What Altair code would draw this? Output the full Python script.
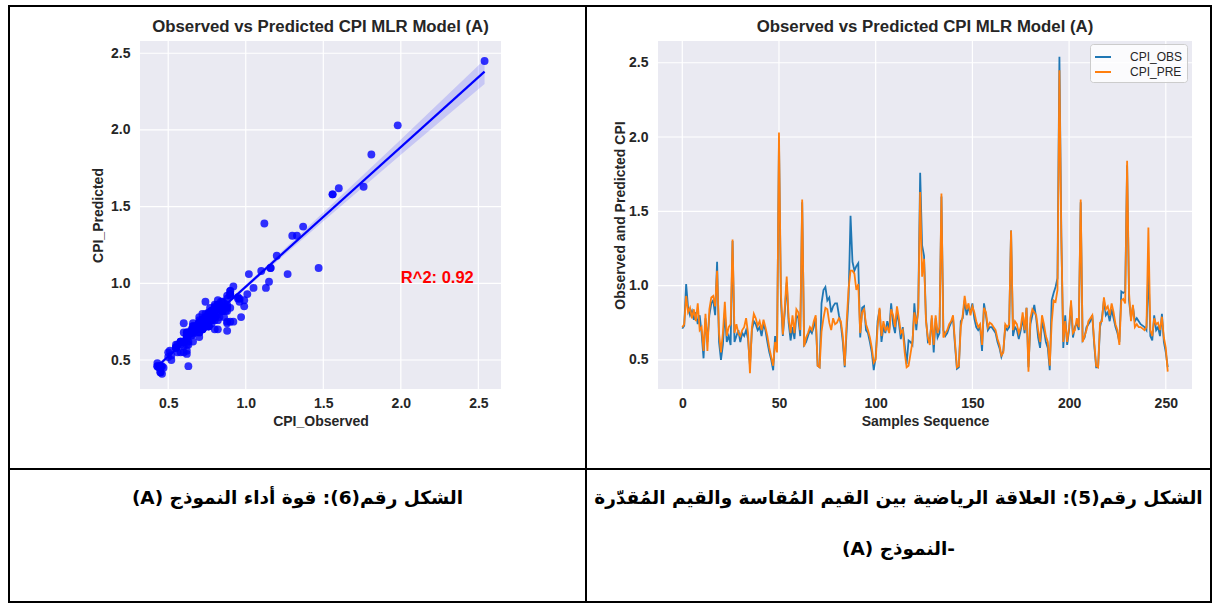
import altair as alt
import pandas as pd

# ---------------- data ----------------
cpi_obs = [
    0.71, 0.73, 1.01, 0.85, 0.80, 0.83, 0.77, 0.82, 0.74, 0.80,
    0.68, 0.51, 0.78, 0.62, 0.80, 0.88, 0.90, 0.80, 1.16, 0.62,
    0.50, 0.60, 0.82, 0.62, 0.66, 0.60, 1.30, 0.62, 0.66, 0.70,
    0.62, 0.68, 0.66, 0.70, 0.64, 0.46, 0.70, 0.76, 0.74, 0.70,
    0.72, 0.66, 0.74, 0.70, 0.62, 0.55, 0.50, 0.43, 0.66, 0.58,
    1.98, 0.90, 0.66, 0.82, 1.02, 0.75, 0.63, 0.72, 0.64, 0.80,
    0.78, 0.66, 1.56, 0.60, 0.62, 0.66, 0.70, 0.68, 0.72, 0.78,
    0.46, 0.45, 0.88, 0.97, 0.99, 0.90, 0.92, 0.82, 0.86, 0.88,
    0.88, 0.80, 0.74, 0.62, 0.45, 0.70, 0.92, 1.47, 1.16, 1.10,
    1.13, 1.15, 0.65, 0.85, 0.86, 0.70, 0.68, 0.62, 0.55, 0.43,
    0.52, 0.76, 0.84, 0.62, 0.72, 0.68, 0.76, 0.70, 0.88, 0.74,
    0.68, 0.82, 0.75, 0.64, 0.72, 0.60, 0.47, 0.63, 0.62, 0.60,
    0.88, 0.70, 0.85, 1.76, 1.27, 1.20, 0.78, 0.62, 0.63, 0.78,
    0.55, 0.78, 0.65, 0.68, 1.60, 0.70, 0.66, 0.68, 0.72, 0.75,
    0.78, 0.60, 0.44, 0.45, 0.76, 0.78, 0.90, 0.80, 0.85, 0.82,
    0.88, 0.78, 0.72, 0.70, 0.72, 0.56, 0.88, 0.80, 0.70, 0.72,
    0.72, 0.70, 0.68, 0.62, 0.58, 0.52, 0.56, 0.72, 0.70, 0.72,
    1.37, 0.66, 0.72, 0.70, 0.64, 0.70, 0.78, 0.68, 0.85, 0.45,
    0.74, 0.80, 0.87, 0.78, 0.65, 0.58, 0.76, 0.70, 0.62, 0.58,
    0.43, 0.90, 0.95, 0.99, 1.05, 2.54, 1.33, 0.58, 0.80, 0.60,
    0.70, 0.88, 0.65, 0.72, 0.75, 0.70, 1.56, 0.63, 0.65, 0.72,
    0.74, 0.76, 0.80, 0.60, 0.45, 0.45, 0.72, 0.78, 0.90, 0.80,
    0.82, 0.76, 0.84, 0.78, 0.72, 0.68, 0.62, 0.96, 0.95, 0.96,
    1.81, 0.90, 0.78, 0.86, 0.76, 0.78, 0.76, 0.74, 0.73, 0.72,
    0.70, 1.12, 0.66, 0.63, 0.80, 0.70, 0.72, 0.66, 0.81, 0.62, 0.55, 0.45,
]
cpi_pre = [
    0.72, 0.74, 0.93, 0.82, 0.85, 0.78, 0.84, 0.76, 0.88, 0.70,
    0.72, 0.56, 0.81, 0.56, 0.84, 0.92, 0.93, 0.86, 1.10, 0.68,
    0.55, 0.68, 0.89, 0.66, 0.72, 0.74, 1.31, 0.68, 0.74, 0.68,
    0.66, 0.70, 0.72, 0.78, 0.68, 0.41, 0.72, 0.81, 0.78, 0.73,
    0.76, 0.70, 0.77, 0.72, 0.66, 0.58, 0.52, 0.46, 0.62, 0.55,
    2.03, 0.95, 0.67, 0.85, 1.06, 0.78, 0.68, 0.80, 0.68, 0.84,
    0.82, 0.70, 1.58, 0.59, 0.65, 0.68, 0.72, 0.70, 0.76, 0.80,
    0.46, 0.45, 0.69, 0.78, 0.85, 0.84, 0.75, 0.70, 0.78, 0.74,
    0.75, 0.78, 0.76, 0.66, 0.46, 0.76, 0.98, 1.10, 1.10, 1.08,
    0.97, 1.01, 0.68, 0.82, 0.84, 0.74, 0.70, 0.65, 0.58, 0.48,
    0.50, 0.72, 0.85, 0.66, 0.76, 0.70, 0.72, 0.68, 0.84, 0.80,
    0.72, 0.86, 0.78, 0.68, 0.70, 0.55, 0.45, 0.46, 0.54, 0.62,
    0.82, 0.74, 0.82, 1.63, 1.06, 1.18, 0.76, 0.65, 0.60, 0.80,
    0.60, 0.80, 0.68, 0.72, 1.62, 0.65, 0.68, 0.70, 0.74, 0.76,
    0.80, 0.62, 0.45, 0.46, 0.72, 0.80, 0.93, 0.84, 0.88, 0.80,
    0.86, 0.82, 0.76, 0.72, 0.74, 0.60, 0.85, 0.82, 0.72, 0.75,
    0.74, 0.72, 0.70, 0.64, 0.60, 0.53, 0.55, 0.74, 0.72, 0.74,
    1.37, 0.70, 0.76, 0.74, 0.68, 0.72, 0.82, 0.70, 0.85, 0.42,
    0.78, 0.84, 0.82, 0.80, 0.70, 0.62, 0.80, 0.74, 0.66, 0.62,
    0.46, 0.75, 0.90, 0.89, 0.97, 2.45, 1.31, 0.62, 0.76, 0.62,
    0.72, 0.90, 0.68, 0.70, 0.78, 0.72, 1.58, 0.62, 0.66, 0.70,
    0.76, 0.78, 0.80, 0.62, 0.46, 0.45, 0.75, 0.76, 0.92, 0.84,
    0.86, 0.80, 0.88, 0.82, 0.74, 0.70, 0.60, 0.90, 0.91, 0.88,
    1.84, 0.95, 0.76, 0.87, 0.72, 0.74, 0.72, 0.72, 0.71, 0.70,
    0.72, 1.39, 0.70, 0.66, 0.78, 0.74, 0.75, 0.70, 0.79, 0.65, 0.58, 0.42,
]
samples = list(range(len(cpi_obs)))

scatter_ticks = [0.5, 1.0, 1.5, 2.0, 2.5]
seq_ticks = [0, 50, 100, 150, 200, 250]
cpi_ticks = [0.5, 1.0, 1.5, 2.0, 2.5]

# fitted line and confidence band
reg_x = [0.43, 2.54]
reg_y = [0.459, 2.38]
band_x = [0.43, 0.60, 0.75, 1.00, 1.50, 2.00, 2.54]
band_lo = [0.444, 0.604, 0.743, 0.966, 1.405, 1.838, 2.30]
band_hi = [0.474, 0.624, 0.759, 0.990, 1.461, 1.938, 2.46]

r2_label = ["R^2: 0.92"]
r2_x = [2.0]
r2_y = [1.0]

series_names = ["CPI_OBS", "CPI_PRE"]
series_colors = ["#1f77b4", "#ff7f0e"]

panel_title = "Observed vs Predicted CPI MLR Model (A)"
RLE, PDF = "\u202b", "\u202c"
cap_left = "الشكل رقم(6): قوة أداء  النموذج (A)"
cap_right_1 = "الشكل رقم(5): العلاقة الرياضية بين القيم المُقاسة والقيم المُقدّرة"
cap_right_2 = "-النموذج (A)"

# ---------------- layout / style ----------------
W1, W2 = 577, 625
H1, H2 = 463, 133
SC_XR, SC_YR = [131, 492], [383, 35]
LN_XR, LN_YR = [72, 606], [383, 35]
sc_xdom, sc_ydom = [0.318, 2.646], [0.311, 2.580]
ln_xdom, ln_ydom = [-12.55, 263.55], [0.3035, 2.6465]

FONT = "Liberation Sans, Arial, sans-serif"
TXT = "#262626"
BG = "#eaeaf2"


def x_axis(title, values, fmt, title_x):
    return alt.Axis(values=values, format=fmt, title=title, grid=False, domain=False,
                    ticks=False, labelFont=FONT, labelFontSize=14, labelFontWeight="bold",
                    labelColor=TXT, labelPadding=7, labelFlush=False, labelOverlap=False,
                    offset=-(H1 - 383), titleFont=FONT, titleFontSize=14,
                    titleFontWeight="bold", titleColor=TXT, titleX=title_x, titleY=32,
                    titleAlign="center", titleBaseline="middle")


def y_axis(title, values, fmt, pos, title_dx):
    return alt.Axis(values=values, format=fmt, title=title, grid=False, domain=False,
                    ticks=False, labelFont=FONT, labelFontSize=14, labelFontWeight="bold",
                    labelColor=TXT, labelPadding=10, labelFlush=False, labelOverlap=False,
                    offset=-pos, titleFont=FONT, titleFontSize=14, titleFontWeight="bold",
                    titleColor=TXT, titleX=title_dx, titleY=209, titleAngle=270,
                    titleAlign="center", titleBaseline="middle")


def panel_background(xdom, ydom, X, Y, xticks, yticks):
    bg = alt.Chart(pd.DataFrame({"x0": [xdom[0]], "x1": [xdom[1]],
                                 "y0": [ydom[0]], "y1": [ydom[1]]})).mark_rect(color=BG).encode(
        x=X("x0:Q"), x2="x1:Q", y=Y("y0:Q"), y2="y1:Q")
    gv = alt.Chart(pd.DataFrame({"g": xticks, "a": [ydom[0]] * len(xticks),
                                 "b": [ydom[1]] * len(xticks)})).mark_rule(
        color="white", strokeWidth=1.2).encode(x=X("g:Q"), y=Y("a:Q"), y2="b:Q")
    gh = alt.Chart(pd.DataFrame({"g": yticks, "a": [xdom[0]] * len(yticks),
                                 "b": [xdom[1]] * len(yticks)})).mark_rule(
        color="white", strokeWidth=1.2).encode(y=Y("g:Q"), x=X("a:Q"), x2="b:Q")
    return [bg, gv, gh]


def title_layer(cx):
    return alt.Chart(pd.DataFrame({"t": [panel_title]})).mark_text(
        font=FONT, fontSize=16.8, fontWeight="bold", color=TXT, align="center",
        baseline="middle").encode(x=alt.value(cx), y=alt.value(21), text="t:N")


# ---------------- panel 1: scatter + regression ----------------
sx = alt.Scale(domain=sc_xdom, range=SC_XR, nice=False, zero=False)
sy = alt.Scale(domain=sc_ydom, range=SC_YR, nice=False, zero=False)
ax1x = x_axis("CPI_Observed", scatter_ticks, ".1f", (SC_XR[0] + SC_XR[1]) / 2)
ax1y = y_axis("CPI_Predicted", scatter_ticks, ".1f", SC_XR[0], -41.5)


def X1(f):
    return alt.X(f, scale=sx, axis=ax1x)


def Y1(f):
    return alt.Y(f, scale=sy, axis=ax1y)


band = alt.Chart(pd.DataFrame({"bx": band_x, "lo": band_lo, "hi": band_hi})).mark_area(
    color="blue", opacity=0.15).encode(x=X1("bx:Q"), y=Y1("lo:Q"), y2="hi:Q")
reg = alt.Chart(pd.DataFrame({"rx": reg_x, "ry": reg_y})).mark_line(
    color="blue", strokeWidth=2.2).encode(x=X1("rx:Q"), y=Y1("ry:Q"))
pts = alt.Chart(pd.DataFrame({"obs": cpi_obs, "pre": cpi_pre})).mark_circle(
    color="blue", opacity=0.8, size=62).encode(x=X1("obs:Q"), y=Y1("pre:Q"))
r2 = alt.Chart(pd.DataFrame({"rx": r2_x, "ry": r2_y, "lab": r2_label})).mark_text(
    font=FONT, fontSize=16.5, fontWeight="bold", color="red", align="left",
    baseline="alphabetic").encode(x=X1("rx:Q"), y=Y1("ry:Q"), text="lab:N")

panel1 = alt.layer(
    *panel_background(sc_xdom, sc_ydom, X1, Y1, scatter_ticks, scatter_ticks),
    band, reg, pts, r2, title_layer((SC_XR[0] + SC_XR[1]) / 2)
).properties(width=W1, height=H1)

# ---------------- panel 2: sequence lines ----------------
lx = alt.Scale(domain=ln_xdom, range=LN_XR, nice=False, zero=False)
ly = alt.Scale(domain=ln_ydom, range=LN_YR, nice=False, zero=False)
ax2x = x_axis("Samples Sequence", seq_ticks, "d", (LN_XR[0] + LN_XR[1]) / 2)
ax2y = y_axis("Observed and Predicted CPI", cpi_ticks, ".1f", LN_XR[0], -37.5)


def X2(f):
    return alt.X(f, scale=lx, axis=ax2x)


def Y2(f):
    return alt.Y(f, scale=ly, axis=ax2y)


lines = alt.Chart(pd.DataFrame({"Sample": samples, "CPI_OBS": cpi_obs, "CPI_PRE": cpi_pre})
                  ).transform_fold(series_names, as_=["series", "value"]).mark_line(
    strokeWidth=1.8).encode(
    x=X2("Sample:Q"), y=Y2("value:Q"),
    color=alt.Color("series:N", scale=alt.Scale(domain=series_names, range=series_colors),
                    legend=alt.Legend(title=None, orient="none", legendX=1081, legendY=38,
                                      direction="vertical", symbolType="stroke",
                                      symbolSize=256, symbolStrokeWidth=2,
                                      labelFont=FONT, labelFontSize=12, labelColor=TXT,
                                      labelOffset=18, fillColor="rgba(255,255,255,0.8)",
                                      strokeColor="#cccccc", cornerRadius=3, padding=4,
                                      rowPadding=0)),
    order="Sample:Q")

panel2 = alt.layer(
    *panel_background(ln_xdom, ln_ydom, X2, Y2, seq_ticks, cpi_ticks),
    lines, title_layer((LN_XR[0] + LN_XR[1]) / 2)
).properties(width=W2, height=H1)


# ---------------- caption cells ----------------
def caption(text, cx, cy):
    return alt.Chart(pd.DataFrame({"t": [RLE + text + PDF]})).mark_text(
        font="DejaVu Sans", fontSize=18.5, fontWeight="bold", color="black",
        align="center", baseline="middle", dir="rtl").encode(
        x=alt.value(cx), y=alt.value(cy), text="t:N")


cap1 = alt.layer(caption(cap_left, W1 / 2, 29)).properties(width=W1, height=H2)
cap2 = alt.layer(caption(cap_right_1, W2 / 2, 29),
                 caption(cap_right_2, W2 / 2, 80)).properties(width=W2, height=H2)

chart = alt.concat(panel1, panel2, cap1, cap2, columns=2, spacing=0, bounds="flush").properties(
    padding={"left": 8, "top": 5, "right": 0, "bottom": 0}, background="white"
).configure_view(stroke="black", strokeWidth=2)

chart.save("out.html", embed_options={"renderer": "svg", "actions": False})
